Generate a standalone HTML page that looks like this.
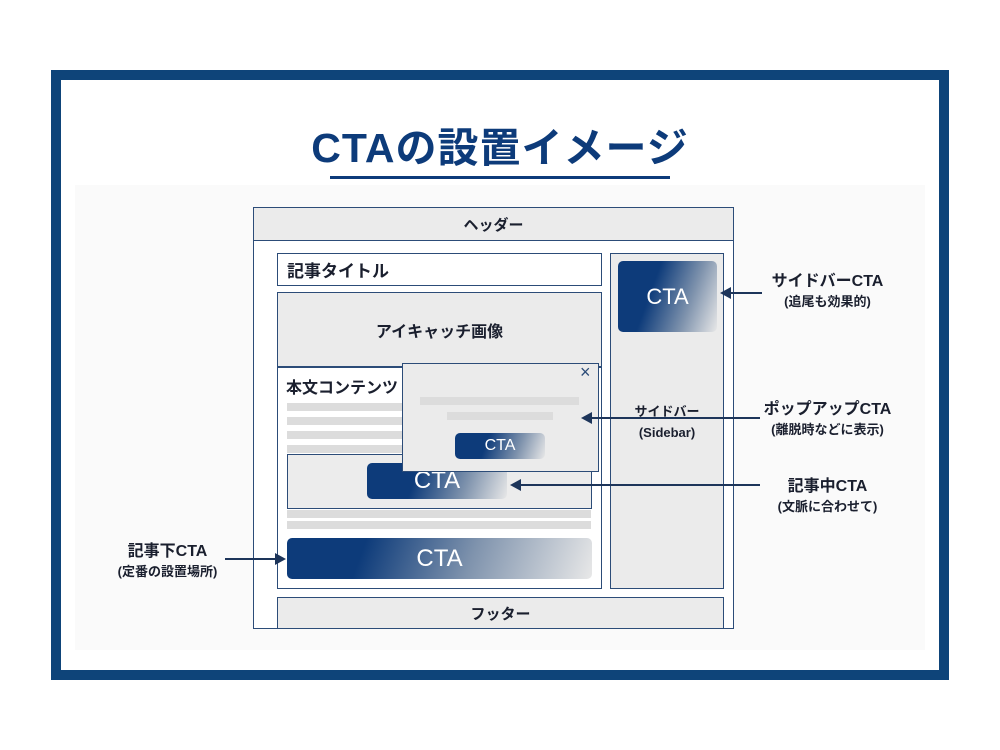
<!DOCTYPE html>
<html><head><meta charset="utf-8"><style>
*{margin:0;padding:0;box-sizing:border-box}
body{width:1000px;height:750px;background:#fff;position:relative;overflow:hidden;font-family:"Liberation Sans","Noto Sans CJK JP",sans-serif;color:#1a1f2e}
.a{position:absolute}
.b{border:1.5px solid #2c4c78}
.g{background:#ebebeb}
.w{background:#fff}
.cta{position:absolute;border-radius:5px;color:#fff;display:flex;align-items:center;justify-content:center;background:linear-gradient(110deg,#0d3b7a 0%,#0d3b7a 35%,#7f93ad 70%,#e8e8e8 100%)}
.ln{position:absolute;background:#dcdcdc}
.t{position:absolute;text-align:center;font-weight:bold;white-space:nowrap}
.arr{position:absolute;height:2px;background:#1d355a}
.arr:before{content:"";position:absolute;left:-2px;top:-5px;border-right:11px solid #1d355a;border-top:6px solid transparent;border-bottom:6px solid transparent}
.arrR:before{left:auto;right:-2px;border-right:none;border-left:11px solid #1d355a}
</style></head><body>
<div class="a" style="left:51px;top:70px;width:898px;height:610px;border:10px solid #0e4479"></div>
<div class="a" style="left:75px;top:185px;width:850px;height:465px;background:#fafafa"></div>
<div class="t" style="left:0;width:1000px;top:114px;font-size:41px;color:#0d3b7a;letter-spacing:1px">CTAの設置イメージ</div>
<div class="a" style="left:330px;top:176px;width:340px;height:3px;background:#0d3b7a"></div>

<div class="a b w" style="left:253px;top:207px;width:481px;height:422px"></div>
<div class="a b g" style="left:253px;top:207px;width:481px;height:34px;display:flex;align-items:center;justify-content:center;font-size:15px;font-weight:bold">ヘッダー</div>
<div class="a b w" style="left:277px;top:253px;width:325px;height:33px;font-size:17px;font-weight:bold;padding:3px 0 0 9px">記事タイトル</div>
<div class="a b w" style="left:277px;top:292px;width:325px;height:297px"></div>
<div class="a g" style="left:278px;top:293px;width:323px;height:73px;display:flex;align-items:center;justify-content:center;font-size:16px;font-weight:bold">アイキャッチ画像</div>
<div class="a" style="left:277px;top:366px;width:325px;height:1.5px;background:#2c4c78"></div>
<div class="t" style="left:286px;top:374px;font-size:16px">本文コンテンツ</div>
<div class="ln" style="left:287px;top:403px;width:120px;height:8px"></div>
<div class="ln" style="left:287px;top:417px;width:120px;height:8px"></div>
<div class="ln" style="left:287px;top:431px;width:120px;height:8px"></div>
<div class="ln" style="left:287px;top:445px;width:304px;height:8px"></div>
<div class="a b" style="left:287px;top:454px;width:305px;height:55px;background:#ececec"></div>
<div class="cta" style="left:367px;top:463px;width:140px;height:36px;font-size:24px">CTA</div>
<div class="ln" style="left:287px;top:510px;width:304px;height:8px"></div>
<div class="ln" style="left:287px;top:521px;width:304px;height:8px"></div>
<div class="cta" style="left:287px;top:538px;width:305px;height:41px;font-size:24px;background:linear-gradient(110deg,#0d3b7a 0%,#0d3b7a 25%,#7f93ad 60%,#e8e8e8 100%)">CTA</div>

<div class="a b g" style="left:402px;top:363px;width:197px;height:109px"></div>
<div class="t" style="left:580px;top:362px;font-size:18px;font-weight:normal;color:#2c4c78">×</div>
<div class="ln" style="left:420px;top:397px;width:159px;height:8px"></div>
<div class="ln" style="left:447px;top:412px;width:106px;height:8px"></div>
<div class="cta" style="left:455px;top:433px;width:90px;height:26px;font-size:16px">CTA</div>

<div class="a b g" style="left:610px;top:253px;width:114px;height:336px"></div>
<div class="cta" style="left:618px;top:261px;width:99px;height:71px;font-size:22px">CTA</div>
<div class="t" style="left:610px;width:114px;top:401px;font-size:13px;line-height:21px">サイドバー<br>(Sidebar)</div>

<div class="a b g" style="left:277px;top:597px;width:447px;height:32px;display:flex;align-items:center;justify-content:center;font-size:15px;font-weight:bold">フッター</div>

<div class="arr" style="left:722px;top:292px;width:40px"></div>
<div class="arr" style="left:583px;top:417px;width:177px"></div>
<div class="arr" style="left:512px;top:484px;width:248px"></div>
<div class="arr arrR" style="left:225px;top:558px;width:59px"></div>

<div class="t" style="left:760px;width:135px;top:272px;font-size:16px;line-height:20px">サイドバーCTA<br><span style="font-size:13px">(追尾も効果的)</span></div>
<div class="t" style="left:760px;width:135px;top:400px;font-size:16px;line-height:20px">ポップアップCTA<br><span style="font-size:13px">(離脱時などに表示)</span></div>
<div class="t" style="left:760px;width:135px;top:477px;font-size:16px;line-height:20px">記事中CTA<br><span style="font-size:13px">(文脈に合わせて)</span></div>
<div class="t" style="left:100px;width:135px;top:542px;font-size:16px;line-height:20px">記事下CTA<br><span style="font-size:13px">(定番の設置場所)</span></div>
</body></html>
